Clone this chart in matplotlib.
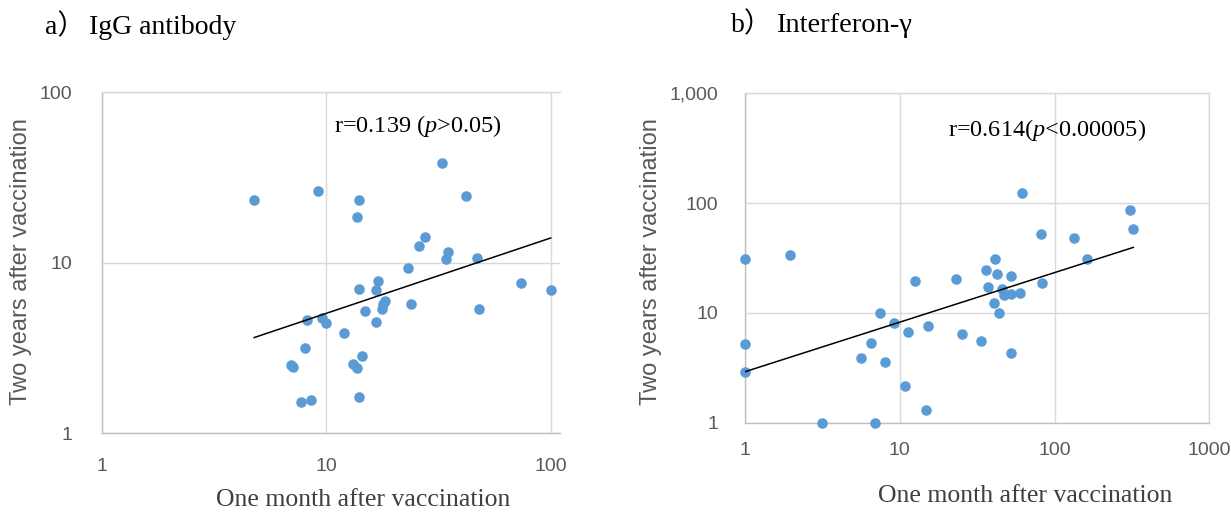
import numpy as np
import matplotlib
matplotlib.use("Agg")
import matplotlib.pyplot as plt
from matplotlib.ticker import FixedLocator, FixedFormatter, NullLocator

# ---------------- data ----------------
igg_month1 = [4.77, 9.15, 14.0, 13.7, 32.7, 41.9, 27.6, 25.9, 34.7, 34.0, 47.0, 23.2,
              73.5, 99.7, 17.0, 14.0, 16.6, 18.2, 17.8, 17.6, 23.9, 48.0, 14.9, 16.6,
              8.20, 9.57, 9.93, 12.0, 8.04, 14.4, 13.2, 13.7, 6.96, 7.13, 7.69, 8.51, 14.0]
igg_year2 = [23.4, 26.4, 23.4, 18.5, 38.7, 24.5, 14.1, 12.6, 11.5, 10.5, 10.6, 9.33,
             7.62, 6.90, 7.79, 7.02, 6.87, 5.92, 5.73, 5.34, 5.74, 5.34, 5.20, 4.48,
             4.60, 4.71, 4.44, 3.84, 3.14, 2.83, 2.54, 2.42, 2.52, 2.44, 1.53, 1.57, 1.62]

ifn_month1 = [1, 1.95, 1, 1, 3.15, 6.96, 61.5, 308, 323, 81.3, 134, 162, 41.4, 36.1,
              42.7, 52.2, 23.0, 12.5, 83.1, 37.0, 45.9, 47.2, 52.2, 59.6, 40.5, 44.0,
              7.41, 9.17, 11.3, 15.2, 25.2, 33.3, 6.47, 5.63, 8.03, 52.2, 10.8, 14.8]
ifn_year2 = [30.8, 33.6, 5.21, 2.88, 1, 1, 123, 86.9, 58.3, 51.8, 48.0, 31.1, 31.1, 24.5,
             22.5, 21.8, 20.1, 19.3, 18.6, 17.1, 16.5, 14.4, 14.9, 15.2, 12.2, 9.86,
             9.93, 8.10, 6.67, 7.50, 6.34, 5.48, 5.25, 3.86, 3.53, 4.32, 2.14, 1.31]

title_prefixes = ["a）", "b）"]
titles = ["IgG antibody", "Interferon-γ"]
annotations = ["r=0.139 ($\\mathit{p}$>0.05)", "r=0.614($\\mathit{p}$<0.00005)"]
xlabel = "One month after vaccination"
ylabel = "Two years after vaccination"
ticks_a = [1, 10, 100]
xticklabels_a = ["1", "10", "100"]
yticklabels_a = ["1", "10", "100"]
ticks_b = [1, 10, 100, 1000]
xticklabels_b = ["1", "10", "100", "1000"]
yticklabels_b = ["1", "10", "100", "1,000"]

# ---------------- style ----------------
plt.rcParams["mathtext.fontset"] = "custom"
plt.rcParams["mathtext.rm"] = "Liberation Serif"
plt.rcParams["mathtext.it"] = "Liberation Serif:italic"

W, H = 1231, 512
fig = plt.figure(figsize=(W / 100, H / 100), dpi=100)

SERIF = ["Liberation Serif", "Noto Sans CJK JP", "DejaVu Serif"]
NARROW = ["Liberation Sans Narrow", "Liberation Sans", "DejaVu Sans"]
BLUE = "#5B9BD5"
GRID = "#d9d9d9"
AXIS = "#bfbfbf"
TXT = "#595959"


def frac(x, y):
    return x / W, 1 - y / H


def setup(ax, ticks, xl, yl, xlim, ylim, xpad, ypad, top_spine, right_spine):
    ax.set_xscale("log")
    ax.set_yscale("log")
    ax.set_xlim(*xlim)
    ax.set_ylim(*ylim)
    ax.xaxis.set_major_locator(FixedLocator(ticks[: len(xl)]))
    ax.xaxis.set_major_formatter(FixedFormatter(xl))
    ax.yaxis.set_major_locator(FixedLocator(ticks[: len(yl)]))
    ax.yaxis.set_major_formatter(FixedFormatter(yl))
    ax.xaxis.set_minor_locator(NullLocator())
    ax.yaxis.set_minor_locator(NullLocator())
    ax.grid(True, which="major", color=GRID, linewidth=1.0, zorder=0)
    ax.set_axisbelow(True)
    ax.tick_params(axis="both", length=0, labelsize=14, labelcolor=TXT)
    ax.tick_params(axis="x", pad=xpad)
    ax.tick_params(axis="y", pad=ypad)
    for lab in ax.get_xticklabels() + ax.get_yticklabels():
        lab.set_fontfamily(NARROW)
    ax.spines["left"].set_color(AXIS)
    ax.spines["bottom"].set_color(AXIS)
    ax.spines["top"].set_color(GRID)
    ax.spines["right"].set_color(GRID)
    ax.spines["top"].set_visible(top_spine)
    ax.spines["right"].set_visible(right_spine)
    for s in ax.spines.values():
        s.set_linewidth(1.0)


def draw(ax, x, y):
    x = np.asarray(x, float)
    y = np.asarray(y, float)
    ax.plot(x, y, "o", color=BLUE, markersize=7.6, markeredgewidth=0,
            clip_on=False, zorder=3)
    b, a = np.polyfit(np.log10(x), np.log10(y), 1)
    xs = np.logspace(np.log10(x.min()), np.log10(x.max()), 50)
    ax.plot(xs, 10 ** a * xs ** b, color="black", linewidth=1.1, zorder=4)


# ---- panel a ----
l, b_ = frac(101.7, 433)
ax1 = fig.add_axes([l, b_, (560 - 101.7) / W, (433 - 92.3) / H])
setup(ax1, ticks_a, xticklabels_a, yticklabels_a,
      (1, 100 * 10 ** ((560 - 551) / 224.7)), (1, 100), 18, 21, True, False)
draw(ax1, igg_month1, igg_year2)

# ---- panel b ----
l, b_ = frac(745, 422.5)
ax2 = fig.add_axes([l, b_, (1209.3 - 745) / W, (422.5 - 93.3) / H])
setup(ax2, ticks_b, xticklabels_b, yticklabels_b,
      (1, 1000), (1, 1000), 14, 19, True, True)
draw(ax2, ifn_month1, ifn_year2)

# ---- titles ----
fig.text(*frac(45, 27), title_prefixes[0], fontsize=20, family=SERIF, color="black",
         ha="left", va="center")
fig.text(*frac(89, 27), titles[0], fontsize=20, family=SERIF, color="black",
         ha="left", va="center")
fig.text(*frac(731, 25), title_prefixes[1], fontsize=20, family=SERIF, color="black",
         ha="left", va="center")
fig.text(*frac(776, 25), titles[1], fontsize=20.5, family=SERIF, color="black",
         ha="left", va="center")

# ---- annotations ----
fig.text(*frac(334, 126), annotations[0], fontsize=17.5, family=SERIF, color="black",
         ha="left", va="center")
fig.text(*frac(948, 130), annotations[1], fontsize=17.5, family=SERIF, color="black",
         ha="left", va="center")

# ---- axis labels ----
fig.text(*frac(363, 500), xlabel, fontsize=18.5, family=SERIF, color="#404040",
         ha="center", va="center")
fig.text(*frac(1025, 496), xlabel, fontsize=18.5, family=SERIF, color="#404040",
         ha="center", va="center")
fig.text(*frac(21, 262), ylabel, fontsize=17, family=NARROW, color=TXT,
         ha="center", va="center", rotation=90)
fig.text(*frac(651, 262), ylabel, fontsize=17, family=NARROW, color=TXT,
         ha="center", va="center", rotation=90)

fig.savefig("out.png", dpi=100)
